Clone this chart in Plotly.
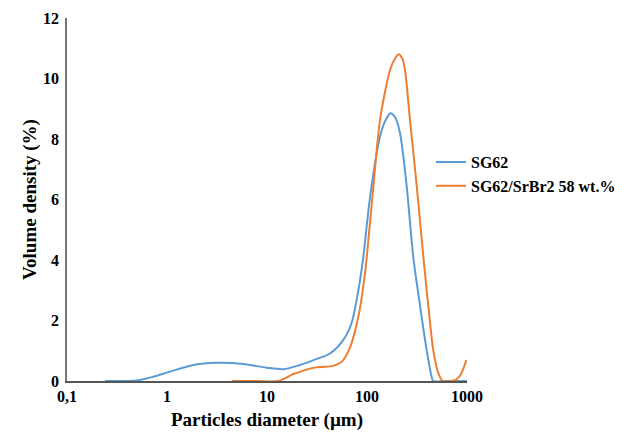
import plotly.graph_objects as go

# Particle diameter (µm) and volume density (%)
sg62_x = [0.24, 0.5, 0.73, 1.07, 1.84, 3.15, 5.8, 9.9, 14.6, 21.4, 32, 42.7, 58, 70, 82, 92,
          100, 109, 135, 155, 172, 192, 214, 250, 290, 340, 395, 443, 460, 600, 1000]
sg62_y = [0.0, 0.02, 0.14, 0.31, 0.53, 0.6, 0.56, 0.44, 0.39, 0.53, 0.74, 0.91, 1.36, 1.91, 3.0, 4.11,
          5.21, 6.25, 8.08, 8.65, 8.85, 8.7, 8.19, 6.4, 4.11, 2.46, 1.02, 0.14, 0.0, 0.0, 0.0]

sr_x = [4.45, 8.0, 13.0, 18.4, 31, 46, 56, 68, 82, 95.5, 107, 115, 135, 170, 190, 207, 226, 240, 269,
        315, 366, 411, 460, 517, 573, 676, 781, 877, 985]
sr_y = [0.0, 0.0, 0.0, 0.23, 0.45, 0.5, 0.64, 1.13, 2.13, 3.56, 5.21, 6.31, 8.63, 10.28, 10.65, 10.8, 10.65, 10.28, 8.63,
        6.42, 4.11, 2.46, 1.02, 0.25, 0.0, 0.0, 0.05, 0.25, 0.69]

series_names = ["SG62", "SG62/SrBr2 58 wt.%"]
x_tickvals = [0.1, 1, 10, 100, 1000]
x_ticktext = ["0,1", "1", "10", "100", "1000"]
y_tickvals = [0, 2, 4, 6, 8, 10, 12]

FONT = "Liberation Serif"

fig = go.Figure()
fig.add_trace(go.Scatter(x=sg62_x, y=sg62_y, mode="lines", name=series_names[0],
                         line=dict(color="#5b9bd5", width=2, shape="spline", smoothing=0.8)))
fig.add_trace(go.Scatter(x=sr_x, y=sr_y, mode="lines", name=series_names[1],
                         line=dict(color="#ed7d31", width=2, shape="spline", smoothing=0.8)))

# page has an 8px body margin, so the figure is sized 625x424 to fill the 633x432 window
fig.update_layout(
    width=625, height=424,
    margin=dict(l=59, r=166, t=9.5, b=51, autoexpand=False),
    paper_bgcolor="white", plot_bgcolor="white",
    font=dict(family=FONT, size=16, color="black"),
    legend=dict(x=0.91, y=0.57, xanchor="left", yanchor="middle",
                font=dict(family=FONT, size=16, color="black", weight="bold"),
                itemwidth=30, tracegroupgap=0, bgcolor="rgba(0,0,0,0)"),
    showlegend=True,
)
fig.update_xaxes(type="log", range=[-1, 3], tickvals=x_tickvals, ticktext=x_ticktext,
                 showgrid=False, zeroline=False, showline=True, linecolor="#555555", linewidth=2,
                 ticks="", automargin=False, tickfont=dict(family=FONT, size=16, weight="bold"),
                 title=dict(text="Particles diameter (µm)", font=dict(family=FONT, size=19, weight="bold"),
                            standoff=8))
fig.update_yaxes(range=[0, 12], tickvals=y_tickvals,
                 showgrid=False, zeroline=False, showline=True, linecolor="#777777", linewidth=1.5,
                 ticks="", ticklabelstandoff=3, automargin=False,
                 tickfont=dict(family=FONT, size=16, weight="bold"),
                 title=dict(text="Volume density (%)", font=dict(family=FONT, size=19, weight="bold"),
                            standoff=1))

fig.write_html("out.html")
